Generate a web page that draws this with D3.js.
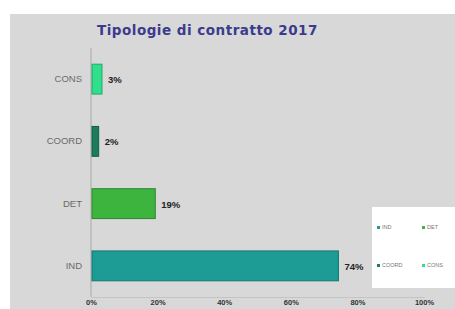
<!DOCTYPE html>
<html>
<head>
<meta charset="utf-8">
<script src="https://cdn.jsdelivr.net/npm/d3@7"></script>
<style>
  body { margin: 0; background: #fff; }
  svg { display: block; font-family: "Liberation Sans", Arial, sans-serif; }
</style>
</head>
<body>
<div id="chart"></div>
<script>
const width = 455;
const height = 309;

const categories = ["CONS", "COORD", "DET", "IND"];
const values = [3, 2, 19, 74];
const colors = ["#2fdf8c", "#1b7d5c", "#3db43e", "#1c9c95"];
const xTicks = [0, 20, 40, 60, 80, 100];
const legendOrder = ["IND", "DET", "COORD", "CONS"];

const margin = { top: 48, right: 31, bottom: 12, left: 91 };

const svg = d3.select('#chart')
    .append('svg')
    .attr('width', width)
    .attr('height', height);

// gray chart area
svg.append('rect')
    .attr('x', 10).attr('y', 14)
    .attr('width', width - 10).attr('height', height - 14)
    .attr('fill', '#d8d8d8');

svg.append('text')
    .attr('x', 97).attr('y', 35)
    .attr('fill', '#3b3b8e')
    .style('font-size', '13.5px')
    .style('font-weight', '900')
    .style('font-family', '"DejaVu Sans", sans-serif')
    .style('letter-spacing', '0.5px')
    .text('Tipologie di contratto 2017');

const x = d3.scaleLinear()
    .domain([0, 100])
    .range([margin.left, 424]);

const y = d3.scaleBand()
    .domain(categories)
    .range([48, 297])
    .paddingInner(0.52)
    .paddingOuter(0.26);

const graph = svg.append('g');

// axis line
graph.append('line')
    .attr('x1', x(0)).attr('x2', x(0))
    .attr('y1', 48).attr('y2', 297)
    .attr('stroke', '#a9a9a9').attr('stroke-width', 1);

const xAxis = d3.axisBottom(x)
    .tickValues(xTicks)
    .tickFormat(d => d + '%')
    .tickSize(0)
    .tickPadding(3);

const gX = graph.append('g')
    .attr('transform', 'translate(0, 297)')
    .call(xAxis);
gX.select('.domain').attr('stroke', '#c4c4c4');
gX.selectAll('text').style('font-size', '7.5px').style('font-weight', 'bold').attr('fill', '#333');

const yAxis = d3.axisLeft(y).tickSize(0).tickPadding(9);
const gY = graph.append('g')
    .attr('transform', `translate(${x(0)}, 0)`)
    .call(yAxis);
gY.select('.domain').remove();
gY.selectAll('text').style('font-size', '9.5px').attr('fill', '#6a6a6a');

const data = categories.map((c, i) => ({ cat: c, value: values[i], color: colors[i] }));

graph.selectAll('rect.bar')
    .data(data)
    .enter()
    .append('rect')
    .attr('class', 'bar')
    .attr('x', x(0) + 1)
    .attr('y', d => y(d.cat))
    .attr('width', d => x(d.value) - x(0))
    .attr('height', y.bandwidth())
    .attr('fill', d => d.color)
    .attr('stroke', d => d3.color(d.color).darker(0.8))
    .attr('stroke-width', 1);

graph.selectAll('text.val')
    .data(data)
    .enter()
    .append('text')
    .attr('class', 'val')
    .attr('x', d => x(d.value) + 7)
    .attr('y', d => y(d.cat) + y.bandwidth() / 2 + 4)
    .style('font-size', '9.5px')
    .style('font-weight', 'bold')
    .attr('fill', '#222')
    .text(d => d.value + '%');

// legend
const legend = svg.append('g');
legend.append('rect')
    .attr('x', 372).attr('y', 207)
    .attr('width', 83).attr('height', 81)
    .attr('fill', '#fff');

const items = legend.selectAll('g.item')
    .data(legendOrder)
    .enter()
    .append('g')
    .attr('class', 'item')
    .attr('transform', (d, i) => `translate(${377 + (i % 2) * 45}, ${229 + Math.floor(i / 2) * 38})`);

items.append('rect')
    .attr('x', 0).attr('y', -3)
    .attr('width', 3).attr('height', 3)
    .attr('fill', d => colors[categories.indexOf(d)]);

items.append('text')
    .attr('x', 5).attr('y', 0)
    .style('font-size', '5.5px')
    .attr('fill', '#777')
    .text(d => d);
</script>
</body>
</html>
